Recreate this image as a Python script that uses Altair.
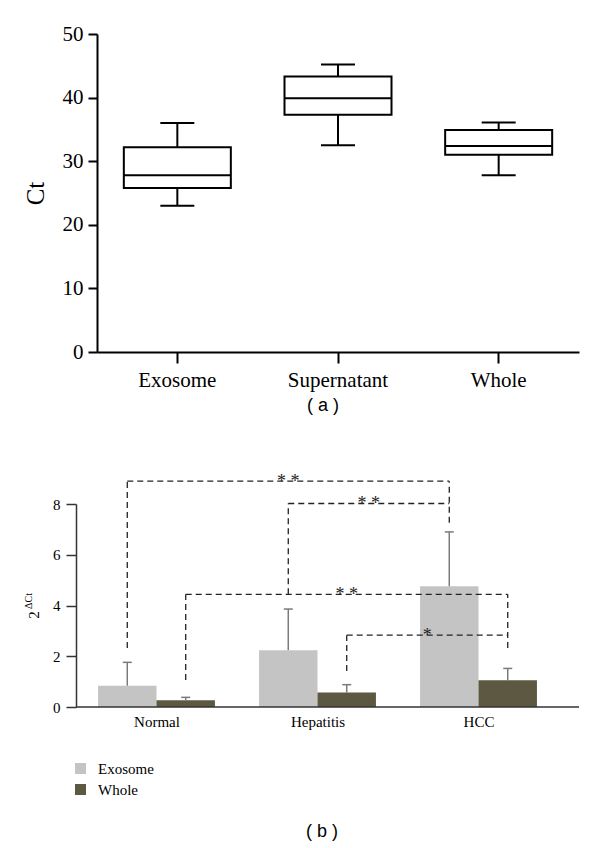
import json
import altair as alt
import pandas as pd

# ---------------- Panel (a): Ct box plot ----------------
box_groups = ["Exosome", "Supernatant", "Whole"]
box_low = [23.0, 32.5, 27.8]
box_q1 = [25.8, 37.3, 31.0]
box_median = [27.8, 39.9, 32.4]
box_q3 = [32.2, 43.3, 34.9]
box_high = [36.0, 45.2, 36.1]
ct_ticks = [0, 10, 20, 30, 40, 50]

# ---------------- Panel (b): 2^dCt bars ----------------
bar_groups = ["Normal", "Hepatitis", "HCC"]
bar_series = ["Exosome", "Whole"]
exosome_mean = [0.84, 2.24, 4.76]
exosome_upper = [1.76, 3.86, 6.90]
whole_mean = [0.27, 0.57, 1.05]
whole_upper = [0.38, 0.88, 1.52]
dct_ticks = [0, 2, 4, 6, 8]

# significance brackets
brk_from = [("Normal", "Exosome"), ("Hepatitis", "Exosome"), ("Normal", "Whole"), ("Hepatitis", "Whole")]
brk_to = [("HCC", "Exosome"), ("HCC", "Exosome"), ("HCC", "Whole"), ("HCC", "Whole")]
brk_top = [8.9, 8.02, 4.44, 2.83]
brk_from_end = [2.33, 4.44, 1.06, 1.42]
brk_to_end = [7.26, 8.02, 2.33, 2.83]
brk_label = ["* *", "* *", "* *", "*"]

SERIF = "Liberation Serif"
SANS = "Liberation Sans"
EXO_COLOR = "#c4c4c4"
WHOLE_COLOR = "#5c5842"
BAR_W = 0.363

# ================= top chart =================
box_df = pd.DataFrame({
    "group": box_groups, "low": box_low, "q1": box_q1,
    "median": box_median, "q3": box_q3, "high": box_high,
})
TW, TH = 482, 318
x_top = alt.X("group:N", sort=box_groups,
              scale=alt.Scale(paddingInner=0, paddingOuter=0),
              axis=alt.Axis(title=None, labelAngle=0, labelFont=SERIF, labelFontSize=21,
                            labelColor="black", labelPadding=6, domainColor="black",
                            domainWidth=2, tickColor="black", tickWidth=2, tickSize=11))
y_top_scale = alt.Scale(domain=[0, 50], nice=False)
y_top_axis = alt.Axis(values=ct_ticks, grid=False, title="Ct", titleFont=SERIF,
                      titleFontSize=25, titleFontWeight="normal", titleColor="black",
                      titlePadding=14, labelFont=SERIF, labelFontSize=21, labelColor="black",
                      labelPadding=5, domainColor="black", domainWidth=2,
                      tickColor="black", tickWidth=2, tickSize=9)

base = alt.Chart(box_df)
whisk_lo = base.mark_rule(color="black", strokeWidth=2).encode(
    x=x_top, y=alt.Y("low:Q", scale=y_top_scale, axis=y_top_axis), y2="q1:Q")
whisk_hi = base.mark_rule(color="black", strokeWidth=2).encode(
    x=x_top, y=alt.Y("q3:Q", scale=y_top_scale, axis=y_top_axis), y2="high:Q")
box = base.mark_bar(size=107, fill="white", stroke="black", strokeWidth=2).encode(
    x=x_top, y=alt.Y("q1:Q", scale=y_top_scale, axis=y_top_axis), y2="q3:Q")
med = base.mark_tick(size=107, thickness=2, color="black", opacity=1).encode(
    x=x_top, y=alt.Y("median:Q", scale=y_top_scale, axis=y_top_axis))
cap_lo = base.mark_tick(size=34, thickness=2, color="black", opacity=1).encode(
    x=x_top, y=alt.Y("low:Q", scale=y_top_scale, axis=y_top_axis))
cap_hi = base.mark_tick(size=34, thickness=2, color="black", opacity=1).encode(
    x=x_top, y=alt.Y("high:Q", scale=y_top_scale, axis=y_top_axis))
lab_a = alt.Chart(pd.DataFrame({"t": ["( a )"]})).mark_text(
    font=SANS, fontSize=18, color="black", baseline="middle").encode(
    x=alt.value(226), y=alt.value(372), text="t:N")

top = alt.layer(whisk_lo, whisk_hi, box, med, cap_lo, cap_hi, lab_a).properties(width=TW, height=TH)

# ================= bottom chart =================
BW, BH = 482, 203
gidx = {g: i for i, g in enumerate(bar_groups)}


def center(group, series):
    return gidx[group] + (-BAR_W / 2 if series == "Exosome" else BAR_W / 2)


rows = []
for i, g in enumerate(bar_groups):
    rows.append({"group": g, "series": "Exosome", "x0": i - BAR_W, "x1": i,
                 "xc": center(g, "Exosome"), "mean": exosome_mean[i], "upper": exosome_upper[i]})
    rows.append({"group": g, "series": "Whole", "x0": i, "x1": i + BAR_W,
                 "xc": center(g, "Whole"), "mean": whole_mean[i], "upper": whole_upper[i]})
bar_df = pd.DataFrame(rows)

x_bot_scale = alt.Scale(domain=[-0.5, 2.5], range=[-21, 462], nice=False, zero=False)
label_expr = "%s[datum.value]" % json.dumps(bar_groups)
x_bot_axis = alt.Axis(values=[0, 1, 2], labelExpr=label_expr, title=None, grid=False,
                      domain=False, ticks=False, labelFont=SERIF, labelFontSize=15,
                      labelColor="black", labelPadding=7)
y_bot_scale = alt.Scale(domain=[0, 8], nice=False)
y_bot_axis = alt.Axis(values=dct_ticks, title=None, grid=False, offset=21,
                      labelFont=SERIF, labelFontSize=15, labelColor="black", labelPadding=6,
                      domainColor="#333333", domainWidth=1.5, tickColor="#333333",
                      tickWidth=1.5, tickSize=10)

X = lambda f: alt.X(f, scale=x_bot_scale, axis=x_bot_axis)
Y = lambda f: alt.Y(f, scale=y_bot_scale, axis=y_bot_axis)

bars = alt.Chart(bar_df).mark_rect().encode(
    x=X("x0:Q"), x2="x1:Q",
    y=Y("mean:Q"), y2=alt.datum(0),
    color=alt.Color("series:N", scale=alt.Scale(domain=bar_series, range=[EXO_COLOR, WHOLE_COLOR]),
                    legend=alt.Legend(orient="none", legendX=-24, legendY=257, title=None,
                                      symbolType="square", symbolSize=121, symbolStrokeWidth=0,
                                      labelFont=SERIF, labelFontSize=15, labelColor="black",
                                      labelOffset=10, rowPadding=5, padding=0)))
err = alt.Chart(bar_df).mark_rule(color="#7a7a7a", strokeWidth=1.5).encode(
    x=X("xc:Q"), y=Y("mean:Q"), y2="upper:Q")
err_cap = alt.Chart(bar_df).mark_tick(orient="horizontal", size=9, thickness=1.5,
                                      color="#7a7a7a", opacity=1).encode(
    x=X("xc:Q"), y=Y("upper:Q"))

seg_rows, lab_rows = [], []
for f, t, top_v, fe, te, lab in zip(brk_from, brk_to, brk_top, brk_from_end, brk_to_end, brk_label):
    xa, xb = center(*f), center(*t)
    seg_rows.append({"x": xa, "x2": xb, "y": top_v, "y2": top_v})
    seg_rows.append({"x": xa, "x2": xa, "y": fe, "y2": top_v})
    seg_rows.append({"x": xb, "x2": xb, "y": te, "y2": top_v})
    lab_rows.append({"x": (xa + xb) / 2, "y": top_v, "label": lab})
seg_df = pd.DataFrame(seg_rows)
lab_df = pd.DataFrame(lab_rows)

brackets = alt.Chart(seg_df).mark_rule(color="#222222", strokeWidth=1.3, strokeDash=[6, 4]).encode(
    x=X("x:Q"), x2="x2:Q", y=Y("y:Q"), y2="y2:Q")
stars = alt.Chart(lab_df).mark_text(font=SERIF, fontSize=18, color="#222222",
                                    baseline="alphabetic", dy=6).encode(
    x=X("x:Q"), y=Y("y:Q"), text="label:N")

one = pd.DataFrame({"t": ["( b )"]})
x_line = alt.Chart(one).mark_rule(color="#333333", strokeWidth=1.5).encode(
    x=alt.value(-21), x2=alt.value(BW), y=alt.value(BH))
lab_b = alt.Chart(one).mark_text(font=SANS, fontSize=18, color="black", baseline="middle").encode(
    x=alt.value(225), y=alt.value(328), text="t:N")
ytitle_2 = alt.Chart(pd.DataFrame({"t": ["2"]})).mark_text(
    font=SERIF, fontSize=15, color="black", angle=270, baseline="middle", align="center").encode(
    x=alt.value(-63), y=alt.value(111), text="t:N")
ytitle_sup = alt.Chart(pd.DataFrame({"t": ["ΔCt"]})).mark_text(
    font=SERIF, fontSize=10, color="black", angle=270, baseline="middle", align="center").encode(
    x=alt.value(-68), y=alt.value(97), text="t:N")

bottom = alt.layer(bars, err, err_cap, brackets, stars, x_line, lab_b, ytitle_2, ytitle_sup).properties(
    width=BW, height=BH)

chart = alt.vconcat(top, bottom, spacing=58).resolve_legend(color="independent").properties(
    padding={"left": 15, "top": 15, "right": 5, "bottom": 5}, background="white"
).configure_view(stroke=None).configure_axis(
    labelFont=SERIF, titleFont=SERIF
).configure_legend(labelFont=SERIF)

chart.save("out.html", embed_options={"renderer": "svg", "actions": False})
